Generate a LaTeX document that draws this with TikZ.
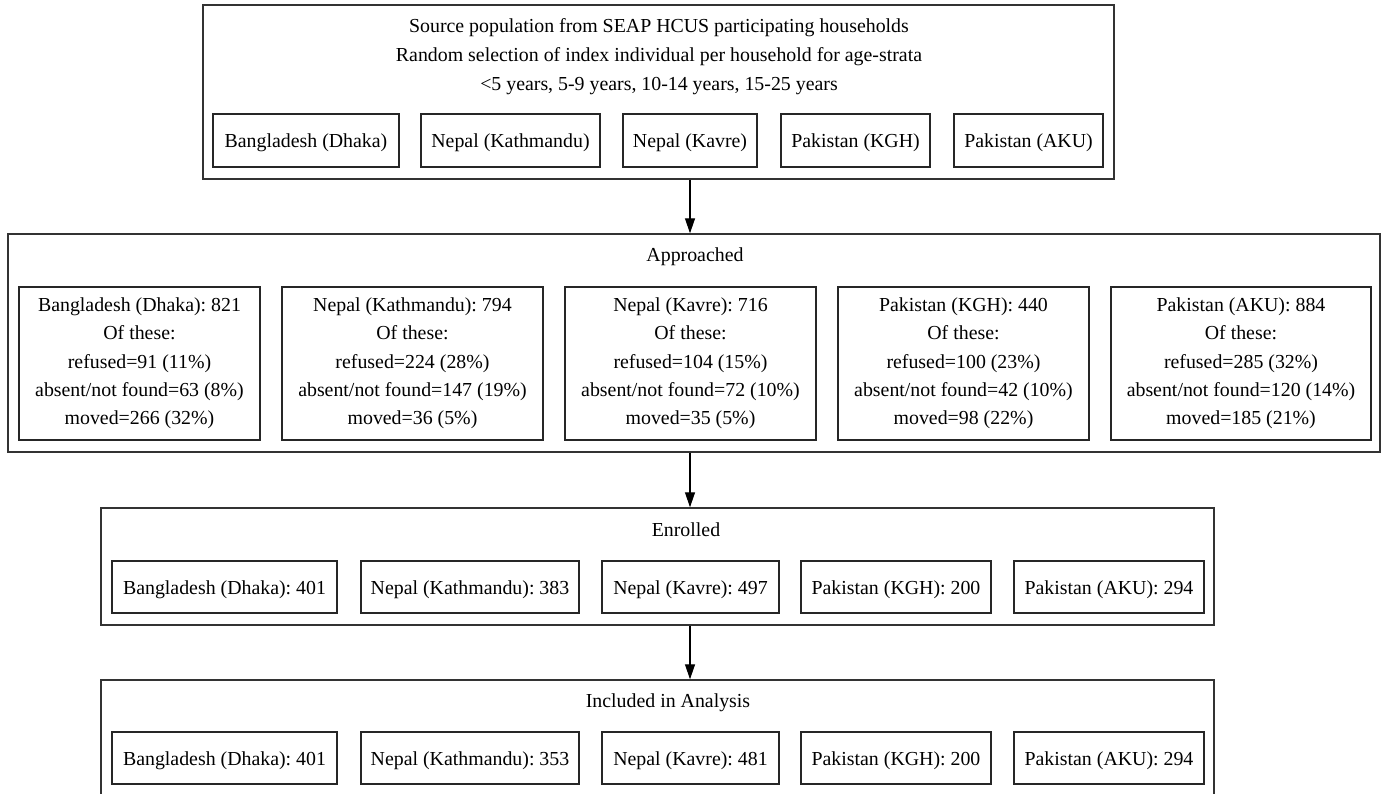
\documentclass[tikz,border=0pt]{standalone}
\usepackage{fontspec}
\setmainfont{Liberation Serif}
\usepackage{tikz}
\usetikzlibrary{arrows.meta,positioning,calc}
\frenchspacing

\begin{document}
\begin{tikzpicture}[
    font=\fontsize{11.3}{16.1}\selectfont,
    group/.style={draw=black!80, line width=0.8pt, inner sep=0pt},
    site/.style={draw=black!85, line width=0.7pt, align=center, inner sep=0pt},
    count/.style={site, text height=0.8em, text depth=0pt},
    title/.style={inner sep=0pt, align=center},
    flow/.style={draw=black, line width=0.7pt, -{Triangle[length=0.3cm,width=0.2cm]}},
]
    \useasboundingbox (0,0) rectangle (27.66,-15.88);

    % Source population
    \node[group, minimum width=18.22cm, minimum height=3.48cm] (src) at (13.17,-1.84) {};
    \node[title, font=\fontsize{11.3}{16.5}\selectfont] (srcTitle) at (13.18,-1.14) {Source population from SEAP HCUS participating households\\
        Random selection of index individual per household for age-strata\\
        <5 years, 5-9 years, 10-14 years, 15-25 years};
    \node[count, minimum width=3.72cm, minimum height=1.06cm] (srcDhaka) at (6.12,-2.81) {Bangladesh (Dhaka)};
    \node[count, minimum width=3.58cm, minimum height=1.06cm] (srcKath) at (10.21,-2.81) {Nepal (Kathmandu)};
    \node[count, minimum width=2.68cm, minimum height=1.06cm] (srcKavre) at (13.80,-2.81) {Nepal (Kavre)};
    \node[count, minimum width=2.98cm, minimum height=1.06cm] (srcKGH) at (17.11,-2.81) {Pakistan (KGH)};
    \node[count, minimum width=2.98cm, minimum height=1.06cm] (srcAKU) at (20.57,-2.81) {Pakistan (AKU)};

    % Approached
    \node[group, minimum width=27.44cm, minimum height=4.36cm] (appr) at (13.88,-6.86) {};
    \node[title] (apprTitle) at (13.90,-5.14) {Approached};
    \node[site, minimum width=4.82cm, minimum height=3.06cm] (apprDhaka) at (2.79,-7.27)
        {Bangladesh (Dhaka): 821\\ Of these:\\ refused=91 (11\%)\\ absent/not found=63 (8\%)\\ moved=266 (32\%)};
    \node[site, minimum width=5.22cm, minimum height=3.06cm] (apprKath) at (8.25,-7.27)
        {Nepal (Kathmandu): 794\\ Of these:\\ refused=224 (28\%)\\ absent/not found=147 (19\%)\\ moved=36 (5\%)};
    \node[site, minimum width=5.02cm, minimum height=3.06cm] (apprKavre) at (13.81,-7.27)
        {Nepal (Kavre): 716\\ Of these:\\ refused=104 (15\%)\\ absent/not found=72 (10\%)\\ moved=35 (5\%)};
    \node[site, minimum width=5.02cm, minimum height=3.06cm] (apprKGH) at (19.27,-7.27)
        {Pakistan (KGH): 440\\ Of these:\\ refused=100 (23\%)\\ absent/not found=42 (10\%)\\ moved=98 (22\%)};
    \node[site, minimum width=5.20cm, minimum height=3.06cm] (apprAKU) at (24.82,-7.27)
        {Pakistan (AKU): 884\\ Of these:\\ refused=285 (32\%)\\ absent/not found=120 (14\%)\\ moved=185 (21\%)};

    % Enrolled
    \node[group, minimum width=22.26cm, minimum height=2.34cm] (enrl) at (13.15,-11.33) {};
    \node[title] (enrlTitle) at (13.72,-10.59) {Enrolled};
    \node[count, minimum width=4.50cm, minimum height=1.04cm] (enrlDhaka) at (4.49,-11.74) {Bangladesh (Dhaka): 401};
    \node[count, minimum width=4.36cm, minimum height=1.04cm] (enrlKath) at (9.40,-11.74) {Nepal (Kathmandu): 383};
    \node[count, minimum width=3.54cm, minimum height=1.04cm] (enrlKavre) at (13.81,-11.74) {Nepal (Kavre): 497};
    \node[count, minimum width=3.80cm, minimum height=1.04cm] (enrlKGH) at (17.92,-11.74) {Pakistan (KGH): 200};
    \node[count, minimum width=3.80cm, minimum height=1.04cm] (enrlAKU) at (22.18,-11.74) {Pakistan (AKU): 294};

    % Included in analysis (runs off the bottom edge)
    \node[group, minimum width=22.26cm, minimum height=2.34cm] (incl) at (13.15,-14.77) {};
    \node[title] (inclTitle) at (13.36,-14.06) {Included in Analysis};
    \node[count, minimum width=4.50cm, minimum height=1.04cm] (inclDhaka) at (4.49,-15.16) {Bangladesh (Dhaka): 401};
    \node[count, minimum width=4.36cm, minimum height=1.04cm] (inclKath) at (9.40,-15.16) {Nepal (Kathmandu): 353};
    \node[count, minimum width=3.54cm, minimum height=1.04cm] (inclKavre) at (13.81,-15.16) {Nepal (Kavre): 481};
    \node[count, minimum width=3.80cm, minimum height=1.04cm] (inclKGH) at (17.92,-15.16) {Pakistan (KGH): 200};
    \node[count, minimum width=3.80cm, minimum height=1.04cm] (inclAKU) at (22.18,-15.16) {Pakistan (AKU): 294};

    % Arrows
    \draw[flow] (src.south -| srcKavre) -- (appr.north -| srcKavre);
    \draw[flow] (appr.south -| srcKavre) -- (enrl.north -| srcKavre);
    \draw[flow] (enrl.south -| srcKavre) -- (incl.north -| srcKavre);
\end{tikzpicture}
\end{document}
